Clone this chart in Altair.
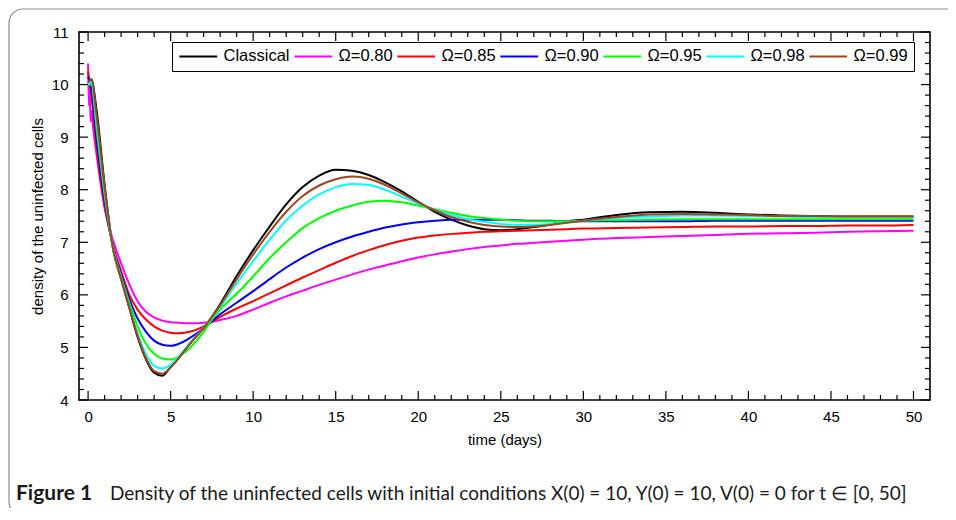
import altair as alt
import pandas as pd

# ---------------- data ----------------
T = [0, 0.2, 0.5, 1, 1.5, 2, 2.5, 3, 3.5, 4, 4.5, 5, 5.5, 6, 6.5, 7, 7.5,
     8, 9, 10, 11, 12, 13, 14, 15, 16, 17, 18, 19, 20, 21, 22, 23, 24, 25, 26, 27, 28, 29, 30,
     32, 34, 36, 38, 40, 42, 44, 46, 48, 50]
T_M = [0, 0.05, 0.1, 0.15, 0.2, 0.3, 0.5, 1, 1.5, 2, 2.5, 3, 3.5, 4, 4.5, 5, 5.5, 6, 6.5, 7, 7.5,
       8, 9, 10, 11, 12, 13, 14, 15, 16, 17, 18, 19, 20, 21, 22, 23, 24, 25, 26, 27, 28, 29, 30,
       32, 34, 36, 38, 40, 42, 44, 46, 48, 50]

CLASSICAL = [10.0, 10.1, 9.55, 8.1, 6.9, 6.3, 5.75, 5.2, 4.78, 4.52, 4.46, 4.63, 4.8, 5.01, 5.19, 5.37, 5.58,
             5.82, 6.36, 6.85, 7.3, 7.72, 8.05, 8.27, 8.38, 8.36, 8.28, 8.14, 7.97, 7.77, 7.58, 7.43, 7.32, 7.25, 7.23,
             7.25, 7.29, 7.34, 7.4, 7.43,
             7.52, 7.57, 7.58, 7.56, 7.53, 7.51, 7.5, 7.49, 7.49, 7.49]
OMEGA_080 = [10.4, 9.6, 10.0, 9.3, 9.5, 9.2, 8.7, 7.65, 7.05, 6.6, 6.2, 5.88, 5.68, 5.57, 5.51, 5.48, 5.47, 5.46,
             5.46, 5.47, 5.49,
             5.52, 5.6, 5.72, 5.85, 5.97, 6.08, 6.19, 6.29, 6.39, 6.48, 6.56, 6.64, 6.71, 6.77, 6.82, 6.87, 6.91, 6.94,
             6.97, 6.99, 7.01, 7.03, 7.05,
             7.08, 7.1, 7.12, 7.14, 7.16, 7.17, 7.18, 7.2, 7.21, 7.22]
OMEGA_085 = [10.25, 9.8, 8.85, 7.7, 6.95, 6.45, 6.0, 5.72, 5.53, 5.4, 5.32, 5.28, 5.27, 5.29, 5.33, 5.4, 5.49,
             5.58, 5.74, 5.88, 6.03, 6.18, 6.33, 6.47, 6.61, 6.74, 6.85, 6.95, 7.03, 7.09, 7.13, 7.16, 7.18, 7.2, 7.21,
             7.22, 7.23, 7.24, 7.25, 7.26,
             7.27, 7.28, 7.29, 7.3, 7.3, 7.31, 7.31, 7.32, 7.32, 7.33]
OMEGA_090 = [10.15, 9.9, 9.0, 7.8, 6.92, 6.4, 5.92, 5.55, 5.3, 5.13, 5.05, 5.03, 5.07, 5.15, 5.25, 5.37, 5.5,
             5.63, 5.85, 6.07, 6.3, 6.52, 6.71, 6.87, 7.0, 7.11, 7.2, 7.28, 7.34, 7.38, 7.41, 7.43, 7.43, 7.43, 7.43,
             7.42, 7.41, 7.41, 7.4, 7.4,
             7.4, 7.4, 7.4, 7.41, 7.41, 7.41, 7.41, 7.41, 7.41, 7.41]
OMEGA_095 = [10.0, 10.0, 9.2, 7.9, 6.91, 6.35, 5.85, 5.4, 5.07, 4.88, 4.79, 4.77, 4.83, 4.94, 5.1, 5.3, 5.53,
             5.72, 6.02, 6.35, 6.7, 7.0, 7.27, 7.46, 7.6, 7.7, 7.77, 7.79, 7.76, 7.7, 7.63, 7.56, 7.5, 7.46, 7.43,
             7.41, 7.4, 7.4, 7.4, 7.41,
             7.42, 7.43, 7.44, 7.44, 7.44, 7.44, 7.44, 7.44, 7.44, 7.44]
OMEGA_098 = [10.0, 10.05, 9.35, 8.0, 6.9, 6.3, 5.78, 5.27, 4.88, 4.65, 4.6, 4.67, 4.83, 5.02, 5.2, 5.38, 5.57,
             5.77, 6.22, 6.64, 7.05, 7.42, 7.7, 7.91, 8.05, 8.11, 8.09, 8.0, 7.87, 7.74, 7.62, 7.52, 7.44, 7.39, 7.35,
             7.33, 7.33, 7.35, 7.38, 7.41,
             7.46, 7.49, 7.51, 7.51, 7.5, 7.49, 7.48, 7.48, 7.48, 7.48]
OMEGA_099 = [10.05, 10.1, 9.45, 8.05, 6.9, 6.3, 5.76, 5.22, 4.8, 4.55, 4.5, 4.62, 4.8, 5.0, 5.19, 5.37, 5.58,
             5.8, 6.3, 6.77, 7.2, 7.58, 7.88, 8.08, 8.2, 8.25, 8.21, 8.09, 7.93, 7.76, 7.61, 7.48, 7.39, 7.33, 7.3,
             7.29, 7.3, 7.33, 7.37, 7.41,
             7.48, 7.53, 7.54, 7.53, 7.52, 7.5, 7.5, 7.49, 7.49, 7.49]

NAMES = ["Classical", "Ω=0.80", "Ω=0.85", "Ω=0.90", "Ω=0.95", "Ω=0.98", "Ω=0.99"]
COLORS = ["#000000", "#ff00ff", "#ff0000", "#0000ff", "#00ff00", "#00ffff", "#a0461e"]

X_MAJOR = [0, 5, 10, 15, 20, 25, 30, 35, 40, 45, 50]
X_MINOR = [i for i in range(0, 51) if i % 5 != 0]
Y_MAJOR = [4, 5, 6, 7, 8, 9, 10, 11]
Y_MINOR = [round(4 + 0.2 * i, 1) for i in range(36) if i % 5 != 0]

CAPTION_BOLD = "Figure 1"
CAPTION_TEXT = "Density of the uninfected cells with initial conditions X(0) = 10, Y(0) = 10, V(0) = 0 for t ∈ [0, 50]"

# ---------------- build table ----------------
series = [
    (NAMES[0], T, CLASSICAL),
    (NAMES[1], T_M, OMEGA_080),
    (NAMES[2], T, OMEGA_085),
    (NAMES[3], T, OMEGA_090),
    (NAMES[4], T, OMEGA_095),
    (NAMES[5], T, OMEGA_098),
    (NAMES[6], T, OMEGA_099),
]
rows = []
for name, ts, vs in series:
    for t, v in zip(ts, vs):
        rows.append({"t": t, "v": v, "series": name})
df = pd.DataFrame(rows)

W, H = 851, 368
FONT = "Liberation Sans"

xscale = alt.Scale(domain=[-0.55, 51.0], nice=False, zero=False)
yscale = alt.Scale(domain=[4, 11], nice=False, zero=False)
xaxis = alt.Axis(values=X_MAJOR, tickSize=0, labelPadding=9, domain=False, grid=False,
                 title="time (days)", titlePadding=8, labelFlush=False)
yaxis = alt.Axis(values=Y_MAJOR, tickSize=0, labelPadding=11, domain=False, grid=False,
                 title="density of the uninfected cells", titlePadding=6, labelFlush=False)
X = alt.X("t:Q", scale=xscale, axis=xaxis)
Y = alt.Y("v:Q", scale=yscale, axis=yaxis)

lines = alt.Chart(df).mark_line(strokeWidth=2, interpolate="monotone", clip=True).encode(
    x=X, y=Y,
    color=alt.Color("series:N", scale=alt.Scale(domain=NAMES, range=COLORS),
                    legend=alt.Legend(title=None, orient="none", legendX=93, legendY=10,
                                      direction="horizontal", columns=7,
                                      symbolType="M-2.7,0H2.7", symbolSize=196, symbolStrokeWidth=2,
                                      symbolOffset=12,
                                      labelFont=FONT, labelFontSize=16.5, labelColor="black",
                                      labelOffset=17, columnPadding=0, padding=6,
                                      strokeColor="black", fillColor="white")),
)


def rule_layer(vals, field, enc):
    d = pd.DataFrame({field: vals})
    return alt.Chart(d).mark_rule(color="black", strokeWidth=1.2).encode(**enc)


ticks = [
    rule_layer(X_MAJOR, "t", dict(x=X, y=alt.value(H), y2=alt.value(H - 9))),
    rule_layer(X_MAJOR, "t", dict(x=X, y=alt.value(0), y2=alt.value(9))),
    rule_layer(X_MINOR, "t", dict(x=X, y=alt.value(H), y2=alt.value(H - 5))),
    rule_layer(X_MINOR, "t", dict(x=X, y=alt.value(0), y2=alt.value(5))),
    rule_layer(Y_MAJOR, "v", dict(y=Y, x=alt.value(0), x2=alt.value(9))),
    rule_layer(Y_MAJOR, "v", dict(y=Y, x=alt.value(W), x2=alt.value(W - 9))),
    rule_layer(Y_MINOR, "v", dict(y=Y, x=alt.value(0), x2=alt.value(5))),
    rule_layer(Y_MINOR, "v", dict(y=Y, x=alt.value(W), x2=alt.value(W - 5))),
]

one = pd.DataFrame({"k": [0]})
border = alt.Chart(one).mark_rect(fill="transparent", stroke="#8c8c8c", strokeWidth=1.2,
                                  cornerRadius=14, clip=False).encode(
    x=alt.value(-70), x2=alt.value(W + 200), y=alt.value(-23), y2=alt.value(H + 116))
frame = alt.Chart(one).mark_rect(fill="transparent", stroke="black", strokeWidth=1.6).encode(
    x=alt.value(0), x2=alt.value(W), y=alt.value(0), y2=alt.value(H))

cap_bold = alt.Chart(one).mark_text(text=CAPTION_BOLD, font="Lato", fontSize=21, fontWeight="bold",
                                    align="left", baseline="alphabetic", color="#1a1a1a").encode(
    x=alt.value(-63), y=alt.value(H + 100))
cap_text = alt.Chart(one).mark_text(text=CAPTION_TEXT, font="Lato", fontSize=19,
                                    align="left", baseline="alphabetic", color="#1a1a1a").encode(
    x=alt.value(31), y=alt.value(H + 100))

chart = alt.layer(border, lines, *ticks, frame, cap_bold, cap_text).properties(
    width=W, height=H,
    background="white",
    autosize=alt.AutoSizeParams(type="none"),
    padding={"left": 71, "top": 24, "right": 18, "bottom": 108},
).configure_view(strokeWidth=0).configure_axis(
    labelFont=FONT, labelFontSize=15, labelColor="black",
    titleFont=FONT, titleFontSize=15, titleFontWeight="normal", titleColor="black"
)

chart.save("out.html", embed_options={"renderer": "svg", "actions": False})
